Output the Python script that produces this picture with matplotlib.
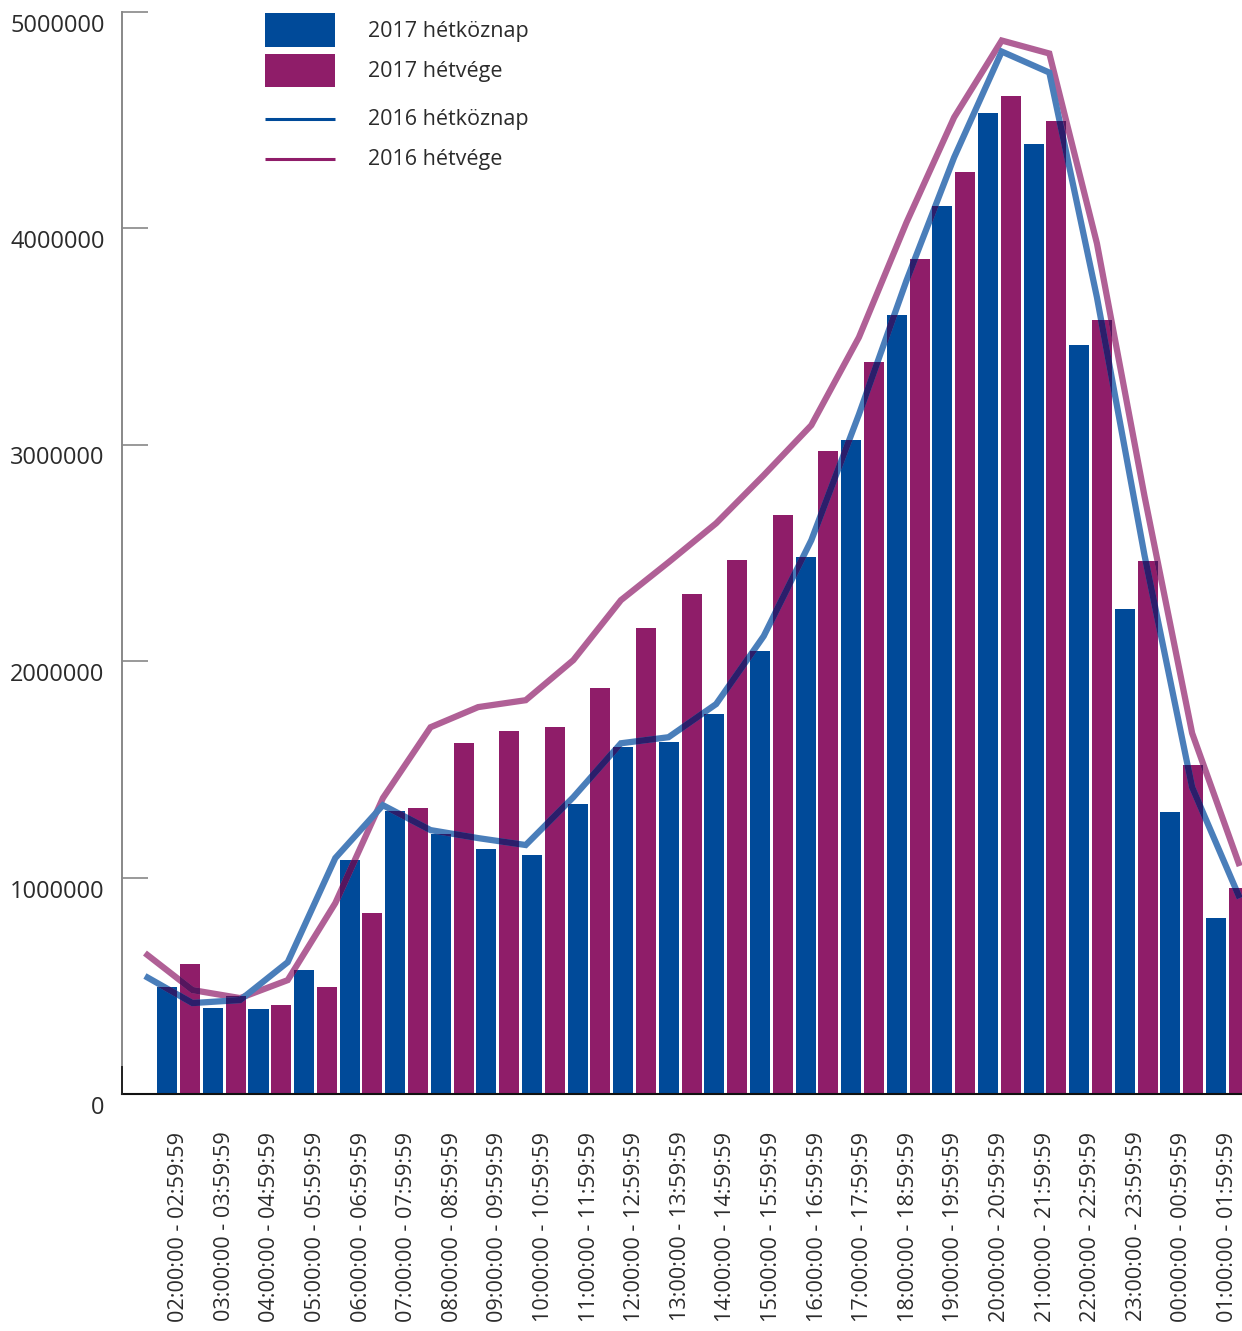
import numpy as np
import matplotlib.pyplot as plt
from matplotlib.path import Path
from matplotlib.patches import PathPatch, Rectangle
from matplotlib.lines import Line2D
from matplotlib.transforms import ScaledTranslation

plt.rcParams['font.family'] = ['Open Sans', 'DejaVu Sans']

hours = ['02:00:00 - 02:59:59', '03:00:00 - 03:59:59', '04:00:00 - 04:59:59',
         '05:00:00 - 05:59:59', '06:00:00 - 06:59:59', '07:00:00 - 07:59:59',
         '08:00:00 - 08:59:59', '09:00:00 - 09:59:59', '10:00:00 - 10:59:59',
         '11:00:00 - 11:59:59', '12:00:00 - 12:59:59', '13:00:00 - 13:59:59',
         '14:00:00 - 14:59:59', '15:00:00 - 15:59:59', '16:00:00 - 16:59:59',
         '17:00:00 - 17:59:59', '18:00:00 - 18:59:59', '19:00:00 - 19:59:59',
         '20:00:00 - 20:59:59', '21:00:00 - 21:59:59', '22:00:00 - 22:59:59',
         '23:00:00 - 23:59:59', '00:00:00 - 00:59:59', '01:00:00 - 01:59:59']

# 2017 bars
weekday_2017 = [494000, 397000, 392000, 572000, 1080000, 1307000, 1200000, 1131000,
                1103000, 1339000, 1602000, 1625000, 1754000, 2045000, 2479000, 3019000,
                3596000, 4100000, 4529000, 4386000, 3458000, 2239000, 1302000, 813000]
weekend_2017 = [600000, 452000, 411000, 494000, 836000, 1320000, 1620000, 1676000,
                1694000, 1874000, 2151000, 2308000, 2465000, 2673000, 2969000, 3380000,
                3855000, 4257000, 4608000, 4492000, 3573000, 2461000, 1519000, 951000]

# 2016 lines
weekday_2016 = [545000, 420000, 434000, 609000, 1090000, 1334000, 1219000, 1182000,
                1150000, 1371000, 1620000, 1648000, 1801000, 2115000, 2558000, 3139000,
                3758000, 4326000, 4815000, 4718000, 3680000, 2488000, 1417000, 905000]
weekend_2016 = [651000, 480000, 443000, 526000, 882000, 1367000, 1694000, 1787000,
                1819000, 2004000, 2281000, 2456000, 2636000, 2858000, 3089000, 3495000,
                4026000, 4511000, 4866000, 4806000, 3929000, 2761000, 1667000, 1053000]

BLUE = '#004A99'
PURPLE = '#8F1D69'
BLUE_LINE = '#4A7EBA'
PURPLE_LINE = '#B06096'
BLUE_DARK = '#2B1E6B'
PURPLE_DARK = '#55165E'
TEXT = '#2b2b2b'

W, H = 1242, 1331
fig = plt.figure(figsize=(W / 100, H / 100), dpi=100)
ax = fig.add_axes([122 / W, 1 - 1094 / H, 1 - 122 / W, (1094 - 11.5) / H])

x = np.arange(len(hours))
width = 0.44
b1 = ax.bar(x - 0.25, weekday_2017, width, color=BLUE, zorder=2)
b2 = ax.bar(x + 0.25, weekend_2017, width, color=PURPLE, zorder=2)

# the 2016 lines sit on their own, slightly wider category spacing
lx = np.linspace(-0.74, 23.27, len(hours))

# union of all bar rectangles, used to darken the lines where they cross bars
verts, codes = [], []
for r in list(b1) + list(b2):
    p = r.get_path().transformed(r.get_patch_transform())
    verts.extend(p.vertices)
    codes.extend(p.codes)
bar_area = PathPatch(Path(verts, codes), transform=ax.transData, fc='none', ec='none')

lw = 4.5
for vals, light, dark, z in [(weekend_2016, PURPLE_LINE, PURPLE_DARK, 3),
                             (weekday_2016, BLUE_LINE, BLUE_DARK, 5)]:
    ax.plot(lx, vals, color=light, lw=lw, zorder=z, solid_joinstyle='miter',
            solid_capstyle='butt')
    over, = ax.plot(lx, vals, color=dark, lw=lw, zorder=z + 1,
                    solid_joinstyle='miter', solid_capstyle='butt')
    over.set_clip_path(bar_area)

ax.set_xlim(-1.243, 23.32)
ax.set_ylim(0, 5000000)

ax.set_xticks(x)
ax.set_xticklabels(hours, rotation=90, va='top', ha='center', fontsize=15.6, color=TEXT)
ax.tick_params(axis='x', length=0, pad=27)

yt = [0, 1000000, 2000000, 3000000, 4000000, 5000000]
ax.set_yticks(yt)
ax.set_yticklabels([str(v) for v in yt], fontsize=17, color=TEXT)
ax.tick_params(axis='y', direction='in', length=19, width=1.2, color='#888888', pad=12.5)
shift = ScaledTranslation(0, -11 / 100, fig.dpi_scale_trans)
for lab in ax.get_yticklabels():
    lab.set_transform(lab.get_transform() + shift)

for s in ['top', 'right']:
    ax.spines[s].set_visible(False)
ax.spines['left'].set_color('#888888')
ax.spines['left'].set_linewidth(1.4)
ax.spines['bottom'].set_color('#111111')
ax.spines['bottom'].set_linewidth(1.5)
ax.plot([0, 0], [0, 27 / 1082.5], transform=ax.transAxes, color='#222222',
        lw=1.4, clip_on=False, zorder=6)

# legend, laid out by hand in pixel positions
def fx(px):
    return px / W

def fy(py):
    return 1 - py / H

legend_labels = ['2017 hétköznap', '2017 hétvége', '2016 hétköznap', '2016 hétvége']
legend_rows = [31, 72, 120, 159]
fig.add_artist(Rectangle((fx(265), fy(46.5)), fx(335) - fx(265), (46.5 - 13) / H,
                         transform=fig.transFigure, color=BLUE, lw=0))
fig.add_artist(Rectangle((fx(265), fy(87)), fx(335) - fx(265), (87 - 53.5) / H,
                         transform=fig.transFigure, color=PURPLE, lw=0))
fig.add_artist(Line2D([fx(265), fx(335)], [fy(119), fy(119)], transform=fig.transFigure,
                      color=BLUE, lw=2.2, solid_capstyle='butt'))
fig.add_artist(Line2D([fx(265), fx(335)], [fy(159), fy(159)], transform=fig.transFigure,
                      color=PURPLE, lw=2.2, solid_capstyle='butt'))
for lab, row in zip(legend_labels, legend_rows):
    fig.text(fx(368), fy(row), lab, fontsize=15.5, color=TEXT, va='center', ha='left')

fig.savefig('out.png', dpi=100)
